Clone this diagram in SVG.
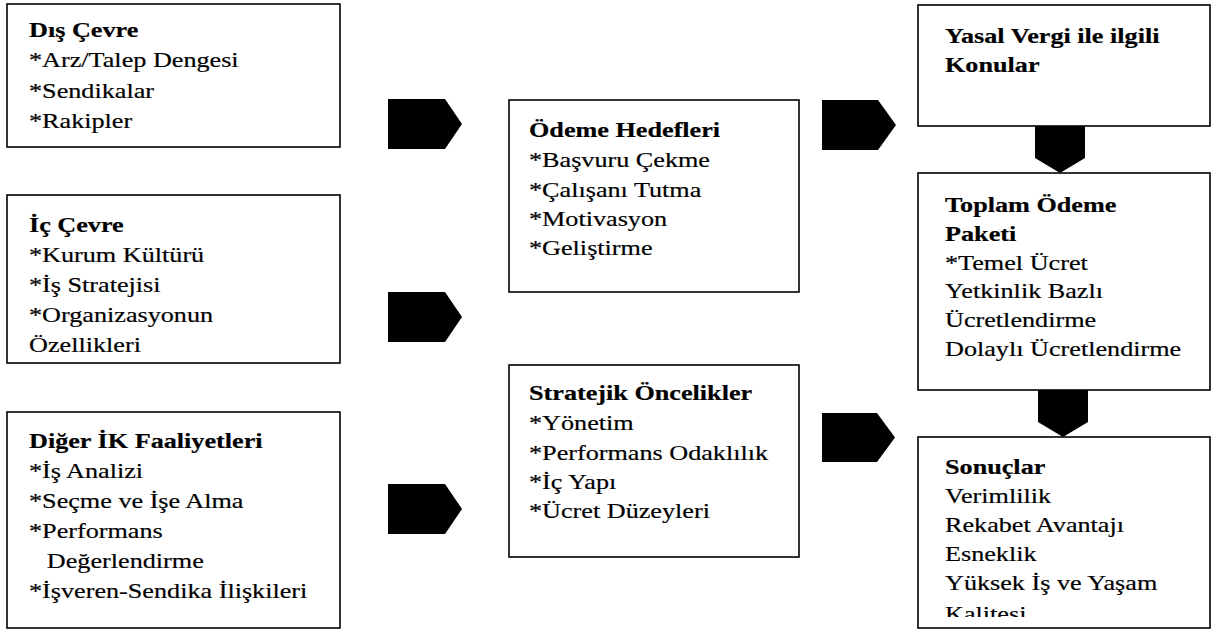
<svg xmlns="http://www.w3.org/2000/svg" width="1211" height="632" viewBox="0 0 1211 632">
  <style>
    .box { fill: #ffffff; stroke: #000000; stroke-width: 1.6; }
    .arrow { fill: #000000; stroke: none; }
    .lbl { font-family: 'Liberation Serif', 'Times New Roman', 'DejaVu Serif', serif; font-size: 22px; fill: #000000; stroke: #000000; stroke-width: 0.2; }
    .head { font-weight: bold; }
  </style>
  <defs>
    <clipPath id="clip-sonuclar">
      <rect x="918" y="437" width="292" height="180"/>
    </clipPath>
  </defs>

  <rect width="1211" height="632" fill="#ffffff"/>

  <!-- block arrows linking the boxes -->
  <g id="connectors">
    <path class="arrow" d="M388,99 H445 L462,124 L445,149 H388 Z"/>
    <path class="arrow" d="M388,292 H445 L462,317 L445,342 H388 Z"/>
    <path class="arrow" d="M388,484 H445 L462,509 L445,534 H388 Z"/>
    <path class="arrow" d="M822,100 H878 L896,125 L878,150 H822 Z"/>
    <path class="arrow" d="M822,413 H877 L895,437.5 L877,462 H822 Z"/>
    <path class="arrow" d="M1035,126 V158 L1060,173 L1085,158 V126 Z"/>
    <path class="arrow" d="M1038,390 V422 L1063,437 L1088,422 V390 Z"/>
  </g>

  <g id="dis-cevre">
    <rect class="box" x="7" y="4" width="333" height="143"/>
    <text class="lbl" transform="translate(29,37) scale(1.19,1)">
      <tspan class="head" x="0" y="0">Dış Çevre</tspan>
      <tspan x="0" y="30.5">*Arz/Talep Dengesi</tspan>
      <tspan x="0" y="61">*Sendikalar</tspan>
      <tspan x="0" y="91.5">*Rakipler</tspan>
    </text>
  </g>

  <g id="ic-cevre">
    <rect class="box" x="7" y="195" width="333" height="168"/>
    <text class="lbl" transform="translate(29,232) scale(1.19,1)">
      <tspan class="head" x="0" y="0">İç Çevre</tspan>
      <tspan x="0" y="30">*Kurum Kültürü</tspan>
      <tspan x="0" y="60">*İş Stratejisi</tspan>
      <tspan x="0" y="90">*Organizasyonun</tspan>
      <tspan x="0" y="120">Özellikleri</tspan>
    </text>
  </g>

  <g id="diger-ik">
    <rect class="box" x="7" y="412" width="333" height="216"/>
    <text class="lbl" transform="translate(29,448) scale(1.19,1)">
      <tspan class="head" x="0" y="0">Diğer İK Faaliyetleri</tspan>
      <tspan x="0" y="30">*İş Analizi</tspan>
      <tspan x="0" y="60">*Seçme ve İşe Alma</tspan>
      <tspan x="0" y="90">*Performans</tspan>
      <tspan x="15" y="120">Değerlendirme</tspan>
      <tspan x="0" y="150">*İşveren-Sendika İlişkileri</tspan>
    </text>
  </g>

  <g id="odeme-hedefleri">
    <rect class="box" x="509" y="100" width="290" height="192"/>
    <text class="lbl" transform="translate(529,137) scale(1.19,1)">
      <tspan class="head" x="0" y="0">Ödeme Hedefleri</tspan>
      <tspan x="0" y="30">*Başvuru Çekme</tspan>
      <tspan x="0" y="60">*Çalışanı Tutma</tspan>
      <tspan x="0" y="89">*Motivasyon</tspan>
      <tspan x="0" y="118">*Geliştirme</tspan>
    </text>
  </g>

  <g id="stratejik-oncelikler">
    <rect class="box" x="509" y="365" width="290" height="192"/>
    <text class="lbl" transform="translate(529,400) scale(1.19,1)">
      <tspan class="head" x="0" y="0">Stratejik Öncelikler</tspan>
      <tspan x="0" y="30">*Yönetim</tspan>
      <tspan x="0" y="60">*Performans Odaklılık</tspan>
      <tspan x="0" y="89">*İç Yapı</tspan>
      <tspan x="0" y="118">*Ücret Düzeyleri</tspan>
    </text>
  </g>

  <g id="yasal-vergi">
    <rect class="box" x="918" y="5" width="292" height="121"/>
    <text class="lbl" transform="translate(945,43) scale(1.19,1)">
      <tspan class="head" x="0" y="0">Yasal Vergi ile ilgili</tspan>
      <tspan class="head" x="0" y="29">Konular</tspan>
    </text>
  </g>

  <g id="toplam-odeme">
    <rect class="box" x="918" y="173" width="292" height="217"/>
    <text class="lbl" transform="translate(945,212) scale(1.19,1)">
      <tspan class="head" x="0" y="0">Toplam Ödeme</tspan>
      <tspan class="head" x="0" y="29">Paketi</tspan>
      <tspan x="0" y="58">*Temel Ücret</tspan>
      <tspan x="0" y="86">Yetkinlik Bazlı</tspan>
      <tspan x="0" y="115">Ücretlendirme</tspan>
      <tspan x="0" y="144">Dolaylı Ücretlendirme</tspan>
    </text>
  </g>

  <g id="sonuclar">
    <rect class="box" x="918" y="437" width="292" height="191"/>
    <g clip-path="url(#clip-sonuclar)">
      <text class="lbl" transform="translate(945,474) scale(1.19,1)">
        <tspan class="head" x="0" y="0">Sonuçlar</tspan>
        <tspan x="0" y="29">Verimlilik</tspan>
        <tspan x="0" y="58">Rekabet Avantajı</tspan>
        <tspan x="0" y="87">Esneklik</tspan>
        <tspan x="0" y="116">Yüksek İş ve Yaşam</tspan>
        <tspan x="0" y="147">Kalitesi</tspan>
      </text>
    </g>
  </g>
</svg>
